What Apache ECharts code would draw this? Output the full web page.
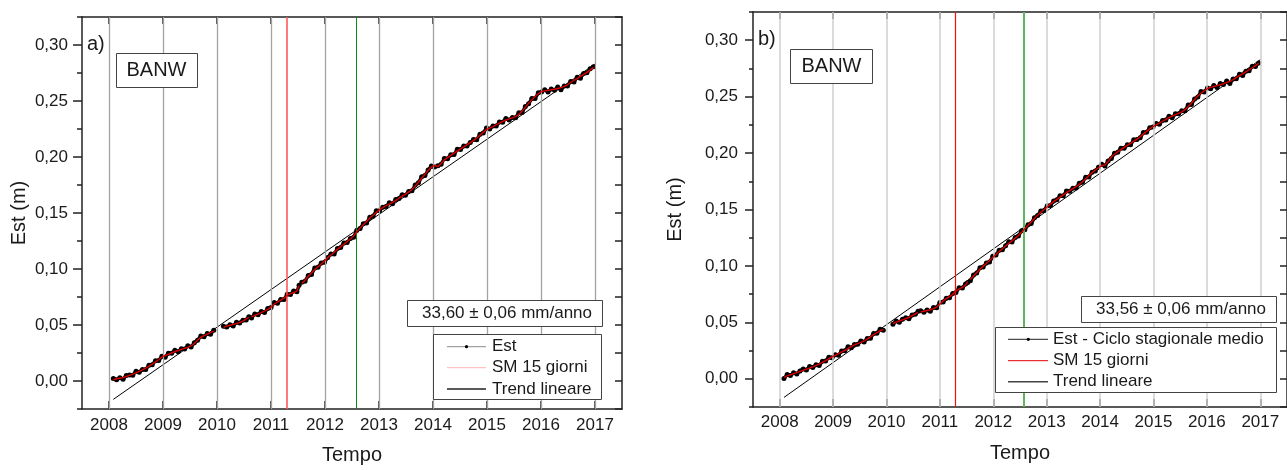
<!DOCTYPE html>
<html><head><meta charset="utf-8">
<script src="https://cdn.jsdelivr.net/npm/echarts@6/dist/echarts.min.js"></script>
<style>html,body{margin:0;padding:0;background:#fff}#c{width:1287px;height:470px}</style>
</head><body><div id="c"></div>
<script>
// ---- data ----
const times = [
 2008.08,2008.14,2008.20,2008.26,2008.32,2008.38,2008.44,2008.50,2008.56,2008.62,2008.68,2008.74,2008.80,2008.86,2008.92,2008.98,
 2009.04,2009.10,2009.16,2009.22,2009.28,2009.34,2009.40,2009.46,2009.52,2009.58,2009.64,2009.70,2009.76,2009.82,2009.88,2009.94,
 2010.03,
 2010.12,2010.18,2010.24,2010.30,2010.36,2010.42,2010.48,2010.54,2010.59,
 2010.615,
 2010.64,2010.70,2010.76,2010.82,2010.88,2010.94,2011.00,2011.06,2011.12,2011.18,2011.24,2011.30,2011.36,2011.42,2011.48,2011.52,
 2011.545,
 2011.57,2011.63,2011.69,2011.75,2011.81,2011.87,2011.93,2011.99,
 2012.05,2012.11,2012.17,2012.23,2012.29,2012.35,2012.41,2012.47,2012.53,2012.59,2012.65,2012.71,2012.77,2012.83,2012.89,2012.95,
 2013.01,2013.07,2013.13,2013.19,2013.25,2013.31,2013.37,2013.43,2013.49,2013.55,2013.61,2013.67,2013.73,2013.79,2013.85,2013.91,2013.97,
 2014.03,2014.09,2014.15,2014.21,2014.27,2014.33,2014.39,2014.45,2014.51,2014.57,2014.63,2014.69,2014.75,2014.81,2014.87,2014.93,2014.99,
 2015.05,2015.11,2015.17,2015.23,2015.29,2015.35,2015.41,2015.47,2015.53,2015.59,2015.65,2015.71,2015.77,2015.83,2015.89,2015.95,
 2016.01,2016.07,2016.13,2016.19,2016.25,2016.31,2016.37,2016.43,2016.49,2016.55,2016.61,2016.67,2016.73,2016.79,2016.85,2016.91,2016.97
];
// panel a) Est
const estA = [
 0.0022,0.0011,0.0030,0.0016,0.0048,0.0053,0.0051,0.0087,0.0079,0.0102,0.0102,0.0141,0.0146,0.0181,0.0182,0.0221,
 0.0213,0.0248,0.0247,0.0275,0.0262,0.0287,0.0285,0.0314,0.0303,0.0342,0.0363,0.0402,0.0396,0.0423,0.0418,0.0454,
 null,
 0.0488,0.0482,0.0502,0.0492,0.0524,0.0517,0.0543,0.0544,0.0574,
 null,
 0.0563,0.0598,0.0592,0.0620,0.0611,0.0647,0.0657,0.0700,0.0695,0.0727,0.0728,0.0774,0.0773,0.0804,0.0797,0.0854,
 null,
 0.0881,0.0891,0.0941,0.0952,0.1009,0.1016,0.1053,0.1060,
 0.1103,0.1135,0.1135,0.1182,0.1192,0.1233,0.1236,0.1273,0.1284,0.1347,0.1362,0.1404,0.1411,0.1461,0.1472,0.1520,
 0.1520,0.1552,0.1558,0.1591,0.1582,0.1620,0.1630,0.1664,0.1659,0.1693,0.1698,0.1750,0.1769,0.1823,0.1834,0.1883,0.1919,
 0.1911,0.1922,0.1935,0.1987,0.1985,0.2021,0.2022,0.2070,0.2068,0.2098,0.2099,0.2130,0.2156,0.2154,0.2204,0.2214,0.2258,
 0.2250,0.2276,0.2276,0.2313,0.2311,0.2344,0.2330,0.2353,0.2351,0.2395,0.2397,0.2451,0.2475,0.2522,0.2522,0.2573,
 0.2581,0.2601,0.2580,0.2607,0.2596,0.2626,0.2600,0.2635,0.2633,0.2675,0.2669,0.2713,0.2704,0.2746,0.2752,0.2787,0.2806
];
// panel a) SM 15 giorni
const smA = [
 0.0010,0.0020,0.0025,0.0030,0.0040,0.0050,0.0062,0.0072,0.0085,0.0100,0.0115,0.0132,0.0150,0.0170,0.0190,0.0215,
 0.0228,0.0238,0.0250,0.0262,0.0272,0.0283,0.0292,0.0300,0.0315,0.0335,0.0365,0.0390,0.0405,0.0418,0.0432,0.0445,
 null,
 0.0478,0.0490,0.0498,0.0505,0.0512,0.0522,0.0535,0.0555,0.0568,
 null,
 0.0572,0.0585,0.0598,0.0610,0.0625,0.0640,0.0660,0.0685,0.0705,0.0722,0.0740,0.0765,0.0780,0.0790,0.0805,0.0850,
 null,
 0.0870,0.0900,0.0935,0.0965,0.0995,0.1020,0.1045,0.1072,
 0.1100,0.1125,0.1150,0.1175,0.1198,0.1220,0.1245,0.1268,0.1295,0.1335,0.1365,0.1395,0.1425,0.1455,0.1480,0.1505,
 0.1530,0.1548,0.1565,0.1580,0.1595,0.1612,0.1632,0.1650,0.1668,0.1688,0.1710,0.1740,0.1775,0.1810,0.1845,0.1880,0.1910,
 0.1925,0.1915,0.1940,0.1975,0.1995,0.2015,0.2035,0.2055,0.2072,0.2090,0.2110,0.2128,0.2146,0.2170,0.2195,0.2220,0.2245,
 0.2258,0.2272,0.2288,0.2302,0.2318,0.2330,0.2340,0.2350,0.2360,0.2380,0.2410,0.2445,0.2480,0.2510,0.2540,0.2565,
 0.2585,0.2590,0.2595,0.2600,0.2605,0.2612,0.2620,0.2630,0.2645,0.2665,0.2685,0.2700,0.2720,0.2738,0.2755,0.2775,0.2800
];
// panel b) Est - Ciclo stagionale medio
const estB = [
 0.0002,0.0038,0.0029,0.0054,0.0043,0.0069,0.0086,0.0077,0.0109,0.0101,0.0125,0.0117,0.0155,0.0157,0.0190,0.0186,
 0.0214,0.0208,0.0246,0.0248,0.0283,0.0274,0.0303,0.0305,0.0335,0.0325,0.0357,0.0360,0.0401,0.0404,0.0439,0.0430,
 null,
 0.0483,0.0513,0.0500,0.0527,0.0541,0.0531,0.0566,0.0571,0.0598,
 null,
 0.0602,0.0590,0.0610,0.0599,0.0632,0.0630,0.0676,0.0681,0.0713,0.0717,0.0756,0.0765,0.0806,0.0805,0.0839,0.0853,
 null,
 0.0868,0.0919,0.0937,0.0983,0.0990,0.1026,0.1034,0.1085,
 0.1096,0.1140,0.1143,0.1179,0.1214,0.1211,0.1253,0.1266,0.1311,0.1320,0.1365,0.1375,0.1428,0.1447,0.1487,0.1492,
 0.1534,0.1535,0.1576,0.1586,0.1622,0.1621,0.1665,0.1661,0.1688,0.1690,0.1732,0.1741,0.1786,0.1789,0.1831,0.1842,0.1874,
 0.1902,0.1885,0.1930,0.1951,0.1999,0.2007,0.2043,0.2042,0.2074,0.2074,0.2117,0.2120,0.2135,0.2182,0.2185,0.2225,0.2230,
 0.2263,0.2255,0.2289,0.2292,0.2326,0.2314,0.2348,0.2349,0.2375,0.2376,0.2427,0.2430,0.2479,0.2497,0.2546,0.2542,
 0.2577,0.2569,0.2599,0.2580,0.2616,0.2608,0.2638,0.2616,0.2657,0.2658,0.2698,0.2687,0.2726,0.2729,0.2769,0.2768,0.2799
];
// panel b) SM 15 giorni
const smB = [
 0.0012,0.0025,0.0035,0.0045,0.0055,0.0065,0.0075,0.0085,0.0095,0.0106,0.0118,0.0130,0.0145,0.0160,0.0178,0.0195,
 0.0208,0.0222,0.0238,0.0252,0.0268,0.0285,0.0300,0.0312,0.0322,0.0335,0.0352,0.0372,0.0392,0.0410,0.0425,0.0438,
 null,
 0.0490,0.0502,0.0512,0.0522,0.0532,0.0545,0.0560,0.0575,0.0588,
 null,
 0.0590,0.0598,0.0605,0.0612,0.0622,0.0636,0.0662,0.0690,0.0710,0.0728,0.0748,0.0780,0.0795,0.0810,0.0830,0.0860,
 null,
 0.0880,0.0910,0.0942,0.0970,0.0998,0.1022,0.1048,0.1075,
 0.1102,0.1128,0.1152,0.1176,0.1200,0.1222,0.1246,0.1270,0.1298,0.1330,0.1360,0.1390,0.1420,0.1450,0.1476,0.1500,
 0.1525,0.1548,0.1570,0.1590,0.1610,0.1630,0.1650,0.1668,0.1685,0.1702,0.1722,0.1746,0.1772,0.1800,0.1825,0.1850,0.1870,
 0.1890,0.1895,0.1925,0.1965,0.1990,0.2010,0.2030,0.2050,0.2068,0.2086,0.2106,0.2124,0.2144,0.2168,0.2192,0.2215,0.2235,
 0.2250,0.2266,0.2282,0.2298,0.2314,0.2328,0.2340,0.2352,0.2365,0.2385,0.2412,0.2442,0.2475,0.2505,0.2530,0.2552,
 0.2572,0.2582,0.2590,0.2598,0.2605,0.2614,0.2624,0.2636,0.2650,0.2668,0.2686,0.2702,0.2720,0.2738,0.2756,0.2775,0.2795
];
// linear trends (endpoints)
const trendT = [2008.08, 2017.00];
const trendA = [-0.0164, 0.2830];
const trendB = [-0.0165, 0.2828];
// event lines
const redLineA = 2011.30, greenLineA = 2012.57;
const redLineB = 2011.29, greenLineB = 2012.57;
// ticks
const yearTicks = [2008,2009,2010,2011,2012,2013,2014,2015,2016,2017];
const yMajor = [0.00,0.05,0.10,0.15,0.20,0.25,0.30];
const yMinor = [-0.025,0.025,0.075,0.125,0.175,0.225,0.275,0.325];
const yAll = [-0.025,0,0.025,0.05,0.075,0.10,0.125,0.15,0.175,0.20,0.225,0.25,0.275,0.30,0.325];
const rateA = '33,60 \u00b1 0,06 mm/anno';
const rateB = '33,56 \u00b1 0,06 mm/anno';
const legendA = ['Est', 'SM 15 giorni', 'Trend lineare'];
const legendB = ['Est - Ciclo stagionale medio', 'SM 15 giorni', 'Trend lineare'];

// ---- chart ----
const FONT = 'Liberation Sans, Arial, sans-serif';
const INK = '#1a1a1a';
function zip(t, v) { return t.map((x, i) => [x, v[i] === null ? '-' : v[i]]); }

const grids = [
  {left: 82, top: 17, width: 540, height: 396},
  {left: 753, top: 12, width: 540, height: 395}
];
const xAxes = [], yAxes = [], series = [];
const cfg = [
  {est: estA, sm: smA, trend: trendA, red: redLineA, green: greenLineA, grid: '#a3a3a3', gw: 1.3,
   redC: '#ff5a5a', redW: 1.6, greenC: '#118a11', greenW: 1, nameGapY: 53, nameGapX: 36, lmY: 14, lmX: 8, tickMaj: 9, tickMin: 5},
  {est: estB, sm: smB, trend: trendB, red: redLineB, green: greenLineB, grid: '#cfcfcf', gw: 1.5,
   redC: '#f01010', redW: 1.2, greenC: '#5cb85c', greenW: 2, nameGapY: 68, nameGapX: 36, lmY: 15, lmX: 7, tickMaj: 8, tickMin: 4}
];
function vline(xi, yi, xv, color, w, z) {
  return {type: 'line', xAxisIndex: xi, yAxisIndex: yi, data: [], z: z, silent: true,
    markLine: {silent: true, symbol: ['none', 'none'], label: {show: false}, animation: false,
      lineStyle: {color: color, width: w, type: 'solid', opacity: 1},
      emphasis: {disabled: true},
      data: (Array.isArray(xv) ? xv : [xv]).map(v => ({xAxis: v}))}};
}
cfg.forEach((c, g) => {
  const axLine = {show: true, onZero: false, lineStyle: {color: '#222', width: 1.5}};
  xAxes.push({gridIndex: g, type: 'value', position: 'bottom', min: 2007.5, max: 2017.5,
    axisLine: axLine,
    axisTick: {show: true, inside: true, length: 8, customValues: yearTicks, lineStyle: {color: '#222', width: 1.5}},
    axisLabel: {show: true, customValues: yearTicks, formatter: v => String(Math.round(v)), fontSize: 17, color: INK, fontFamily: FONT, margin: c.lmX},
    splitLine: {show: false},
    name: 'Tempo', nameLocation: 'middle', nameGap: c.nameGapX,
    nameTextStyle: {fontSize: 20, color: INK, fontFamily: FONT}});
  xAxes.push({gridIndex: g, type: 'value', position: 'top', min: 2007.5, max: 2017.5,
    axisLine: axLine,
    axisTick: {show: true, inside: true, length: 7, customValues: yearTicks, lineStyle: {color: '#222', width: 1.5}},
    axisLabel: {show: false}, splitLine: {show: false}});
  yAxes.push({gridIndex: g, type: 'value', position: 'left', min: -0.025, max: 0.325,
    axisLine: axLine,
    axisTick: {show: true, inside: false, length: c.tickMaj, customValues: yMajor, lineStyle: {color: '#222', width: 1.5}},
    axisLabel: {show: true, customValues: yMajor, formatter: v => v.toFixed(2).replace('.', ','), fontSize: 17, color: INK, fontFamily: FONT, margin: c.lmY},
    splitLine: {show: false},
    name: 'Est (m)', nameLocation: 'middle', nameGap: c.nameGapY,
    nameTextStyle: {fontSize: 20, color: INK, fontFamily: FONT}});
  yAxes.push({gridIndex: g, type: 'value', position: 'left', min: -0.025, max: 0.325,
    axisLine: {show: false, onZero: false},
    axisTick: {show: true, inside: false, length: c.tickMin, customValues: yMinor, lineStyle: {color: '#222', width: 1.5}},
    axisLabel: {show: false}, splitLine: {show: false}});
  yAxes.push({gridIndex: g, type: 'value', position: 'right', min: -0.025, max: 0.325,
    axisLine: axLine,
    axisTick: {show: true, inside: true, length: 7, customValues: yAll, lineStyle: {color: '#222', width: 1.5}},
    axisLabel: {show: false}, splitLine: {show: false}});
  const xi = g * 2, yi = g * 3;
  series.push(vline(xi, yi, yearTicks, c.grid, c.gw, 1));
  series.push(vline(xi, yi, c.red, c.redC, c.redW, 2));
  series.push(vline(xi, yi, c.green, c.greenC, c.greenW, 2));
  series.push({type: 'line', name: g === 0 ? 'Est' : 'Est - Ciclo stagionale medio', xAxisIndex: xi, yAxisIndex: yi,
    data: zip(times, c.est), connectNulls: false, symbol: 'circle', symbolSize: 5, showSymbol: true,
    itemStyle: {color: '#000'}, lineStyle: {color: '#000', width: 3.4}, z: 3, animation: false, silent: true});
  series.push({type: 'line', name: 'Trend lineare', xAxisIndex: xi, yAxisIndex: yi,
    data: zip(trendT, c.trend), symbol: 'none', lineStyle: {color: '#000', width: 1}, z: 4, animation: false, silent: true});
  series.push({type: 'line', name: 'SM 15 giorni', xAxisIndex: xi, yAxisIndex: yi,
    data: zip(times, c.sm), connectNulls: false, symbol: 'none', lineStyle: {color: '#e00000', width: 1.4}, z: 5, animation: false, silent: true});
});

function txt(x, y, s, size, align, va) {
  return {type: 'text', x: x, y: y, z: 100, silent: true,
    style: {text: s, fill: INK, font: size + 'px ' + FONT, align: align || 'left', verticalAlign: va || 'middle'}};
}
function box(x, y, w, h) {
  return {type: 'rect', z: 99, silent: true, shape: {x: x + 0.5, y: y + 0.5, width: w, height: h},
    style: {fill: '#fff', stroke: '#444', lineWidth: 1}};
}
function ln(x1, y1, x2, y2, color, w) {
  return {type: 'line', z: 100, silent: true, shape: {x1: x1, y1: y1, x2: x2, y2: y2}, style: {stroke: color, lineWidth: w}};
}
const graphics = [];
// panel a
graphics.push(txt(87, 44, 'a)', 20));
graphics.push(box(116, 53, 81, 34), txt(156.5, 70.5, 'BANW', 20, 'center'));
graphics.push(box(407, 300, 195, 26), txt(507, 313.5, rateA, 17, 'center'));
graphics.push(box(433, 334, 168, 65));
[346.7, 367.7, 389.0].forEach((cy, i) => {
  const col = i === 0 ? '#8a8a8a' : (i === 1 ? '#ffb3b3' : '#222');
  graphics.push(ln(447, cy, 486, cy, col, i === 2 ? 1.5 : 1));
  graphics.push(txt(492, cy, legendA[i], 17));
});
graphics.push({type: 'circle', z: 101, silent: true, shape: {cx: 466.5, cy: 346.7, r: 1.6}, style: {fill: '#000'}});
// panel b
graphics.push(txt(758, 39, 'b)', 20));
graphics.push(box(790, 49, 82, 34), txt(831.5, 66.5, 'BANW', 20, 'center'));
graphics.push(box(1081, 296, 195, 26), txt(1181, 309.5, rateB, 17, 'center'));
graphics.push(box(995, 327, 281, 65));
[339.3, 360.7, 381.7].forEach((cy, i) => {
  const col = i === 0 ? '#222' : (i === 1 ? '#e00000' : '#444');
  graphics.push(ln(1008, cy, 1048, cy, col, i === 2 ? 1.5 : 1));
  graphics.push(txt(1053, cy, legendB[i], 17));
});
graphics.push({type: 'circle', z: 101, silent: true, shape: {cx: 1028.3, cy: 339.3, r: 1.6}, style: {fill: '#000'}});

const chart = echarts.init(document.getElementById('c'), null, {renderer: 'canvas'});
chart.setOption({
  animation: false,
  backgroundColor: '#fff',
  textStyle: {fontFamily: FONT},
  grid: grids,
  xAxis: xAxes,
  yAxis: yAxes,
  series: series,
  graphic: graphics
});
</script>
</body></html>
